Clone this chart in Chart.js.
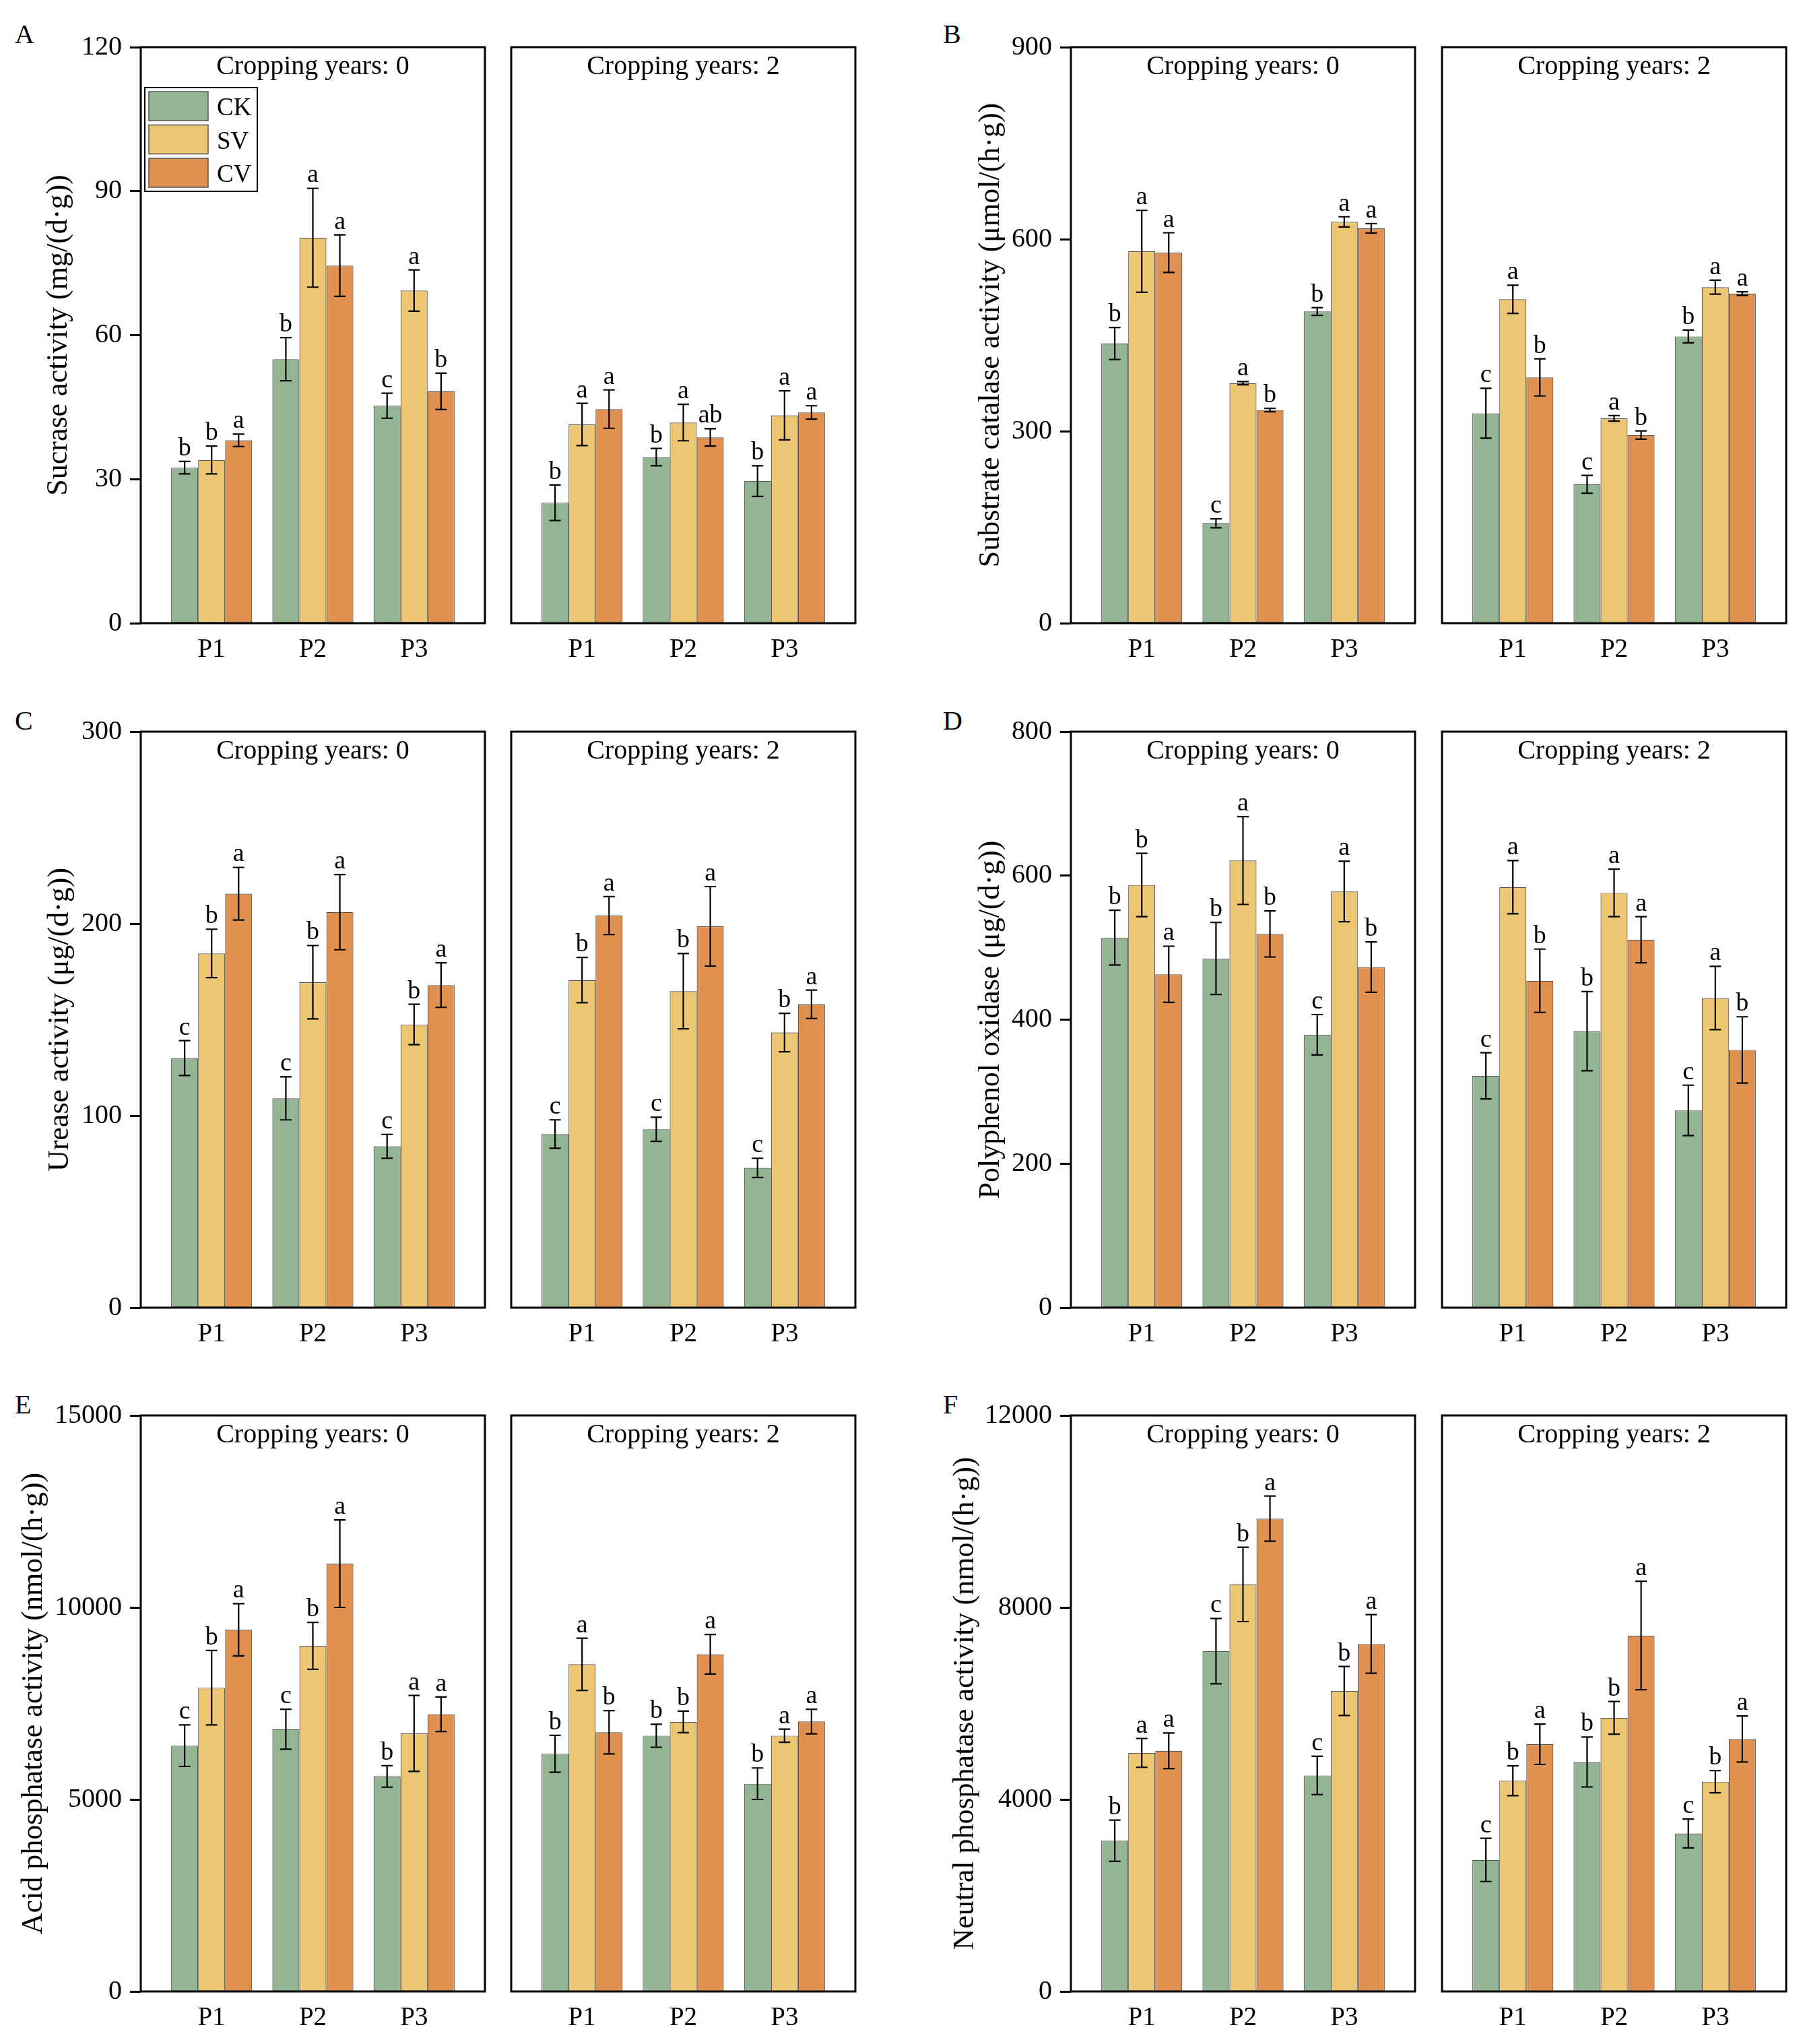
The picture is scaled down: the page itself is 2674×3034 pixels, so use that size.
<!DOCTYPE html>
<html>
<head>
<meta charset="utf-8">
<title>Soil enzyme activities</title>
<script src="https://cdn.jsdelivr.net/npm/chart.js@4"></script>
<style>
  body { margin: 0; background: #fff; }
  #page { position: relative; width: 2674px; height: 3034px; background: #fff; overflow: hidden; }
  #page canvas { position: absolute; }
  .tag { position: absolute; font-family: 'Liberation Serif', 'Times New Roman', serif; font-size: 40px; line-height: 40px; color: #000; }
</style>
</head>
<body>
<div id="page"></div>
<script>
var groups = ['P1', 'P2', 'P3'];
var treatments = ['CK', 'SV', 'CV'];
var colors = ['#94b593', '#edc674', '#e0914f'];
var years = ['0', '2'];

// rows: CK, SV, CV ; columns: P1, P2, P3
var sucrase0Mean = [[32.4, 55.0, 45.3], [34.0, 80.3, 69.3], [38.1, 74.5, 48.3]];
var sucrase0Err  = [[1.3, 4.5, 2.6], [2.9, 10.3, 4.3], [1.3, 6.4, 3.8]];
var sucrase0Sig  = [['b', 'b', 'c'], ['b', 'a', 'a'], ['a', 'a', 'b']];
var sucrase2Mean = [[25.1, 34.6, 29.6], [41.4, 41.8, 43.3], [44.6, 38.7, 43.9]];
var sucrase2Err  = [[3.7, 1.8, 3.2], [4.4, 3.8, 5.1], [4.0, 1.8, 1.4]];
var sucrase2Sig  = [['b', 'b', 'b'], ['a', 'a', 'a'], ['a', 'ab', 'a']];

var catalase0Mean = [[437, 156, 487], [581, 375, 627], [579, 333, 617]];
var catalase0Err  = [[25, 7, 6], [64, 2.5, 8], [31, 2.7, 7.4]];
var catalase0Sig  = [['b', 'c', 'b'], ['a', 'a', 'a'], ['a', 'b', 'a']];
var catalase2Mean = [[328, 217, 448], [506, 320, 525], [384, 294, 515]];
var catalase2Err  = [[39, 14, 10], [22, 4.4, 11], [29, 6.4, 2.7]];
var catalase2Sig  = [['c', 'c', 'b'], ['a', 'a', 'a'], ['b', 'b', 'a']];

var urease0Mean = [[130, 109, 84], [184.5, 169.5, 147.5], [215.6, 206, 168]];
var urease0Err  = [[9.1, 11.2, 6.2], [12.6, 19.1, 10.5], [13.7, 19.6, 11.6]];
var urease0Sig  = [['c', 'c', 'c'], ['b', 'b', 'b'], ['a', 'a', 'a']];
var urease2Mean = [[90.4, 92.9, 72.8], [170.6, 164.8, 143.3], [204.2, 198.6, 158]];
var urease2Err  = [[7.4, 6.3, 5], [11.8, 19.6, 10], [9.9, 20.7, 7.4]];
var urease2Sig  = [['c', 'c', 'c'], ['b', 'b', 'b'], ['a', 'a', 'a']];

var ppo0Mean = [[514, 485, 379], [587, 621, 578], [463, 519, 473]];
var ppo0Err  = [[38, 50, 28], [44, 61, 42], [39, 32, 35]];
var ppo0Sig  = [['b', 'b', 'c'], ['b', 'a', 'a'], ['a', 'b', 'b']];
var ppo2Mean = [[322, 384, 274], [584, 576, 430], [454, 511, 358]];
var ppo2Err  = [[32, 55, 35], [37, 33, 44], [44, 32, 46]];
var ppo2Sig  = [['c', 'b', 'c'], ['a', 'a', 'a'], ['b', 'a', 'b']];

var acid0Mean = [[6400, 6830, 5600], [7910, 9000, 6720], [9420, 11140, 7220]];
var acid0Err  = [[540, 520, 280], [970, 610, 990], [680, 1140, 450]];
var acid0Sig  = [['c', 'c', 'b'], ['b', 'b', 'a'], ['a', 'a', 'a']];
var acid2Mean = [[6190, 6660, 5410], [8520, 7020, 6660], [6750, 8780, 7030]];
var acid2Err  = [[480, 300, 410], [680, 280, 170], [565, 515, 320]];
var acid2Sig  = [['b', 'b', 'b'], ['a', 'b', 'a'], ['b', 'a', 'a']];

var neutral0Mean = [[3140, 7090, 4500], [4970, 8480, 6260], [5015, 9850, 7240]];
var neutral0Err  = [[430, 680, 400], [300, 775, 510], [370, 470, 610]];
var neutral0Sig  = [['b', 'c', 'c'], ['a', 'b', 'b'], ['a', 'a', 'a']];
var neutral2Mean = [[2740, 4780, 3290], [4390, 5700, 4370], [5150, 7415, 5260]];
var neutral2Err  = [[450, 520, 300], [310, 340, 230], [420, 1130, 480]];
var neutral2Sig  = [['c', 'b', 'c'], ['b', 'b', 'b'], ['a', 'a', 'a']];

var panels = [
  { tag: 'A', title: 'Sucrase activity (mg/(d\u00b7g))', yMax: 120, yStep: 30, titlePad: 61, legend: true,
    means: [sucrase0Mean, sucrase2Mean], errs: [sucrase0Err, sucrase2Err], sigs: [sucrase0Sig, sucrase2Sig] },
  { tag: 'B', title: 'Substrate catalase activity (\u03bcmol/(h\u00b7g))', yMax: 900, yStep: 300, titlePad: 65,
    means: [catalase0Mean, catalase2Mean], errs: [catalase0Err, catalase2Err], sigs: [catalase0Sig, catalase2Sig] },
  { tag: 'C', title: 'Urease activity (\u03bcg/(d\u00b7g))', yMax: 300, yStep: 100, titlePad: 63,
    means: [urease0Mean, urease2Mean], errs: [urease0Err, urease2Err], sigs: [urease0Sig, urease2Sig] },
  { tag: 'D', title: 'Polyphenol oxidase (\u03bcg/(d\u00b7g))', yMax: 800, yStep: 200, titlePad: 65,
    means: [ppo0Mean, ppo2Mean], errs: [ppo0Err, ppo2Err], sigs: [ppo0Sig, ppo2Sig] },
  { tag: 'E', title: 'Acid phosphatase activity (nmol/(h\u00b7g))', yMax: 15000, yStep: 5000, titlePad: 24,
    means: [acid0Mean, acid2Mean], errs: [acid0Err, acid2Err], sigs: [acid0Sig, acid2Sig] },
  { tag: 'F', title: 'Neutral phosphatase activity (nmol/(h\u00b7g))', yMax: 12000, yStep: 4000, titlePad: 27,
    means: [neutral0Mean, neutral2Mean], errs: [neutral0Err, neutral2Err], sigs: [neutral0Sig, neutral2Sig] }
];

// layout in page pixels
var colOrigin = [0, 1380];
var plotLefts = [[209, 759], [1590, 2141]];
var rowTops = [70, 1086, 2101];
var tagPos = [[22, 1400], [31, 1050, 2065]];
var PW = 511, PH = 855, PAD_T = 40, PAD_B = 80, PAD_R = 10;

Chart.defaults.font.family = "'Liberation Serif', 'Times New Roman', serif";
Chart.defaults.color = '#000';

var decor = {
  id: 'decor',
  afterDatasetsDraw: function (chart, args, opts) {
    var ctx = chart.ctx, a = chart.chartArea, ys = chart.scales.y;
    ctx.save();
    chart.data.datasets.forEach(function (ds, di) {
      chart.getDatasetMeta(di).data.forEach(function (bar, gi) {
        var m = ds.data[gi].y, e = ds.err[gi];
        var yt = ys.getPixelForValue(m + e), yb = ys.getPixelForValue(m - e);
        ctx.strokeStyle = '#000';
        ctx.lineWidth = 2.2;
        ctx.beginPath();
        ctx.moveTo(bar.x, yt); ctx.lineTo(bar.x, yb);
        ctx.moveTo(bar.x - 8.5, yt); ctx.lineTo(bar.x + 8.5, yt);
        ctx.moveTo(bar.x - 8.5, yb); ctx.lineTo(bar.x + 8.5, yb);
        ctx.stroke();
        ctx.fillStyle = '#000';
        ctx.font = "38px 'Liberation Serif'";
        ctx.textAlign = 'center';
        ctx.textBaseline = 'alphabetic';
        ctx.fillText(ds.sig[gi], bar.x, yt - 9);
      });
    });
    ctx.strokeStyle = '#000';
    ctx.lineWidth = 3;
    ctx.strokeRect(a.left, a.top, a.right - a.left, a.bottom - a.top);
    ctx.font = "40px 'Liberation Serif'";
    ctx.textAlign = 'center';
    ctx.fillText(opts.heading, (a.left + a.right) / 2, a.top + 40);
    if (opts.legend) {
      var lx = a.left + 6, ly = a.top + 60;
      ctx.lineWidth = 2;
      ctx.strokeRect(lx, ly, 167, 154);
      chart.data.datasets.forEach(function (ds, i) {
        var sy = ly + 6 + i * 49.5;
        ctx.fillStyle = ds.backgroundColor;
        ctx.fillRect(lx + 6, sy, 88, 43);
        ctx.strokeStyle = '#555';
        ctx.lineWidth = 1.5;
        ctx.strokeRect(lx + 6, sy, 88, 43);
        ctx.fillStyle = '#000';
        ctx.font = "37px 'Liberation Serif'";
        ctx.textAlign = 'left';
        ctx.fillText(ds.label, lx + 107, sy + 35);
      });
    }
    ctx.restore();
  }
};

var page = document.getElementById('page');

function addChart(panel, k, plotLeft, plotTop, originX) {
  var first = k === 0;
  var canvasLeft = first ? originX : plotLeft - 10;
  var axisW = first ? plotLeft - canvasLeft : 0;
  var c = document.createElement('canvas');
  c.width = plotLeft + PW + PAD_R - canvasLeft;
  c.height = PAD_T + PH + PAD_B;
  c.style.left = canvasLeft + 'px';
  c.style.top = (plotTop - PAD_T) + 'px';
  page.appendChild(c);
  var means = panel.means[k], errs = panel.errs[k], sigs = panel.sigs[k];

  new Chart(c, {
    type: 'bar',
    data: {
      datasets: treatments.map(function (t, ti) {
        return {
          label: t,
          data: groups.map(function (g, gi) { return { x: gi + 1, y: means[ti][gi] }; }),
          err: errs[ti],
          sig: sigs[ti],
          backgroundColor: colors[ti],
          borderColor: '#555',
          borderWidth: 1.2,
          borderSkipped: false,
          categoryPercentage: 0.8,
          barPercentage: 1.0
        };
      })
    },
    options: {
      responsive: false,
      animation: false,
      devicePixelRatio: 1,
      layout: { padding: { left: first ? 0 : 10, top: PAD_T, right: PAD_R, bottom: 0 } },
      plugins: {
        legend: { display: false },
        tooltip: { enabled: false },
        decor: { heading: 'Cropping years: ' + years[k], legend: first && panel.legend }
      },
      scales: {
        x: {
          type: 'linear', min: 0.3, max: 3.7, offset: false,
          grid: { display: false, offset: false }, border: { display: false },
          afterBuildTicks: function (ax) { ax.ticks = groups.map(function (g, i) { return { value: i + 1 }; }); },
          afterFit: function (ax) { ax.height = PAD_B; },
          ticks: {
            callback: function (v) { return groups[v - 1]; },
            font: { size: 39 }, color: '#000', padding: 8, maxRotation: 0, autoSkip: false
          }
        },
        y: {
          display: first, min: 0, max: panel.yMax,
          ticks: { stepSize: panel.yStep, font: { size: 40 }, color: '#000', padding: 12,
                   callback: function (v) { return String(v); } },
          grid: { display: true, drawOnChartArea: false, drawTicks: true, tickLength: 16, tickWidth: 3, tickColor: '#000' },
          border: { display: false },
          title: { display: true, text: panel.title, font: { size: 44 }, color: '#000', padding: { top: panel.titlePad, bottom: 0 } },
          afterFit: function (ax) { ax.width = axisW; }
        }
      }
    },
    plugins: [decor]
  });
}

panels.forEach(function (panel, pi) {
  var col = pi % 2, row = Math.floor(pi / 2);
  var tag = document.createElement('div');
  tag.className = 'tag';
  tag.textContent = panel.tag;
  tag.style.left = tagPos[0][col] + 'px';
  tag.style.top = tagPos[1][row] + 'px';
  page.appendChild(tag);
  for (var k = 0; k < 2; k++) {
    addChart(panel, k, plotLefts[col][k], rowTops[row], colOrigin[col]);
  }
});
</script>
</body>
</html>
